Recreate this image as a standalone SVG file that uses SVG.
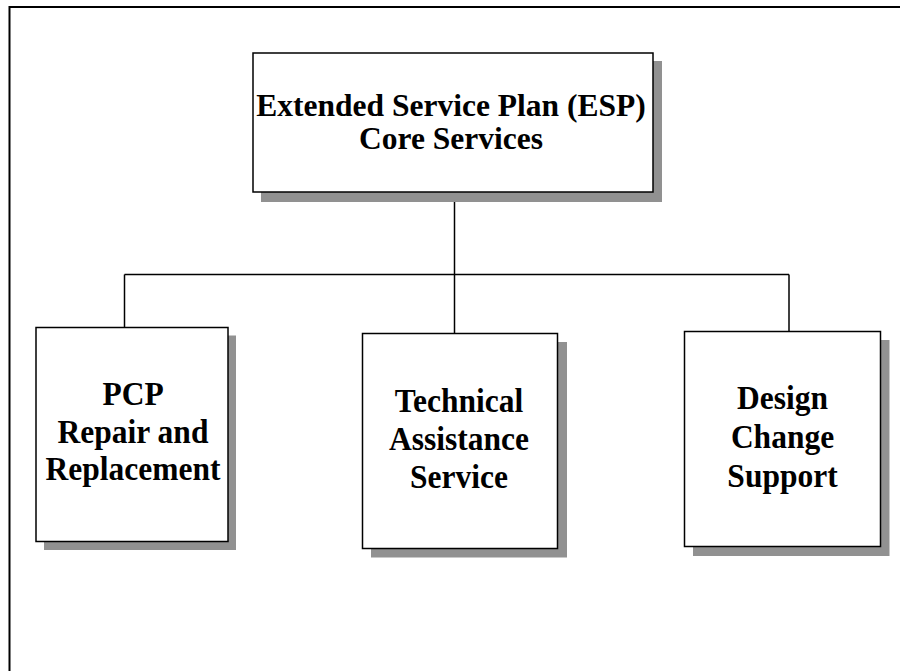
<svg xmlns="http://www.w3.org/2000/svg" width="900" height="671" viewBox="0 0 900 671">
<style>
.shadow{fill:#919191;stroke:none}
.box{fill:#ffffff;stroke:#000000;stroke-width:1.5}
.conn{stroke:#000000;stroke-width:1.5;fill:none}
.lbl{font-family:"Liberation Serif","Times New Roman",serif;font-weight:bold;font-size:31.5px;text-anchor:middle;fill:#000000}
</style>
<rect x="0" y="0" width="900" height="671" fill="#ffffff"/>
<path d="M9.5,671 V7 H900" fill="none" stroke="#000000" stroke-width="2"/>
<g id="connectors">
<path class="conn" d="M454.5,192 V333.5"/>
<path class="conn" d="M124.5,274.5 H789"/>
<path class="conn" d="M124.5,274.5 V327.5"/>
<path class="conn" d="M789,274.5 V331.5"/>
</g>
<g id="node-esp">
<rect class="shadow" x="261" y="61" width="401" height="141"/>
<rect class="box" x="253" y="53" width="400" height="139"/>
<text class="lbl" x="451" y="116" font-size="32">Extended Service Plan (ESP)</text>
<text class="lbl" x="451" y="149" font-size="32">Core Services</text>
</g>
<g id="node-pcp">
<rect class="shadow" x="44" y="335.5" width="192" height="214.5"/>
<rect class="box" x="36" y="327.5" width="192" height="214"/>
<text class="lbl" transform="translate(133,405) scale(1,1.07)">PCP</text>
<text class="lbl" transform="translate(133,443) scale(1,1.07)">Repair and</text>
<text class="lbl" transform="translate(133,480) scale(1,1.07)">Replacement</text>
</g>
<g id="node-tas">
<rect class="shadow" x="371" y="342" width="196" height="215.5"/>
<rect class="box" x="362.5" y="333.5" width="195" height="215"/>
<text class="lbl" transform="translate(459,411.5) scale(1,1.07)">Technical</text>
<text class="lbl" transform="translate(459,450) scale(1,1.07)">Assistance</text>
<text class="lbl" transform="translate(459,488) scale(1,1.07)">Service</text>
</g>
<g id="node-dcs">
<rect class="shadow" x="693" y="340" width="196.5" height="216"/>
<rect class="box" x="684.5" y="331.5" width="196" height="215"/>
<text class="lbl" transform="translate(782.5,409) scale(1,1.07)">Design</text>
<text class="lbl" transform="translate(782.5,448) scale(1,1.07)">Change</text>
<text class="lbl" transform="translate(782.5,486.5) scale(1,1.07)">Support</text>
</g>
</svg>
